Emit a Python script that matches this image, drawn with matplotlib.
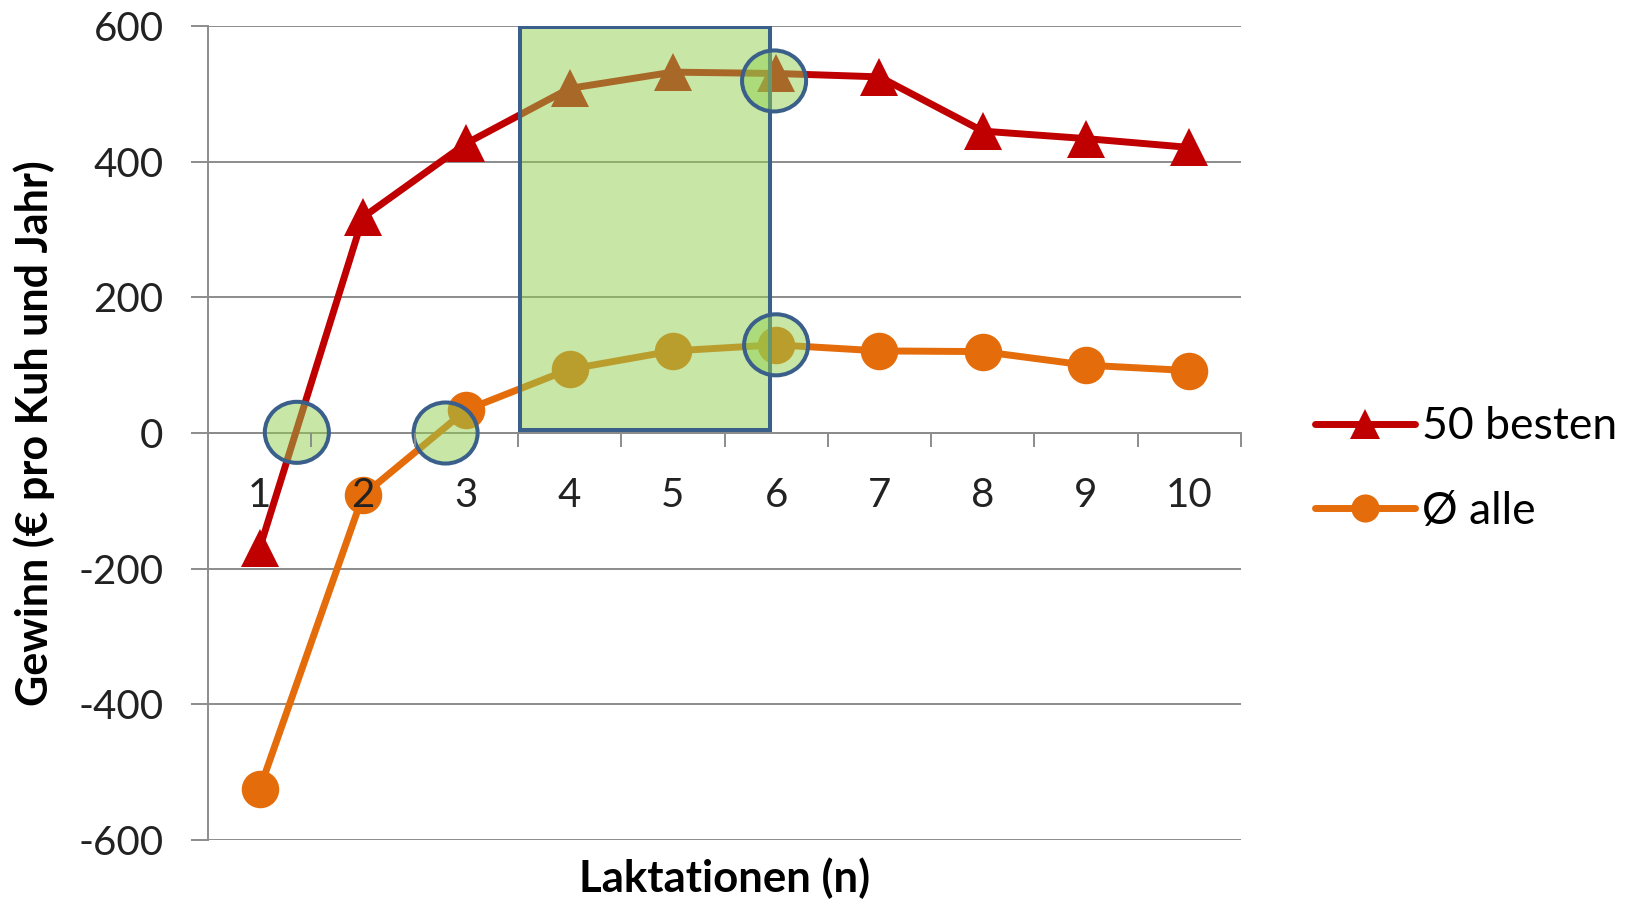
import matplotlib.pyplot as plt
from matplotlib.patches import Rectangle, Ellipse
from matplotlib.colors import to_rgba

# Gewinn je Laktation
laktationen = [1, 2, 3, 4, 5, 6, 7, 8, 9, 10]
besten_50 = [-170, 318, 427, 508, 532, 530, 525, 445, 434, 421]
alle_mittel = [-525, -92, 34, 94, 121, 130, 121, 120, 100, 92]

y_ticks = [-600, -400, -200, 0, 200, 400, 600]

# markierter Bereich und Kreise (x, y)
bereich_x = (3.52, 5.94)
bereich_y = (5, 598)
kreise = [(1.36, 1), (2.80, 0), (5.98, 519), (6.0, 130)]

plt.rcParams['font.family'] = ['Lato', 'DejaVu Sans']
plt.rcParams['axes.unicode_minus'] = False

grid_col = '#8c8c8c'
red = '#C00000'
orange = '#E46C0A'
green = to_rgba('#92D050', 0.5)
blue = '#3A5F8B'

fig = plt.figure(figsize=(16.32, 9.02), dpi=100)
ax = fig.add_axes([208/1632, 1 - 840/902, (1241 - 208)/1632, (840 - 26)/902])

ax.set_xlim(0.5, 10.5)
ax.set_ylim(-600, 600)

ax.plot(laktationen, besten_50, color=red, lw=5, marker='^', ms=28, mew=0,
        label='50 besten', zorder=3, solid_capstyle='round')
ax.plot(laktationen, alle_mittel, color=orange, lw=5, marker='o', ms=27, mew=0,
        label='Ø alle', zorder=3, solid_capstyle='round')

ax.add_patch(Rectangle((bereich_x[0], bereich_y[0]), bereich_x[1] - bereich_x[0],
                       bereich_y[1] - bereich_y[0], facecolor=green,
                       edgecolor=blue, lw=2.9, zorder=4))
for cx, cy in kreise:
    ax.add_patch(Ellipse((cx, cy), 0.62, 90, facecolor=green,
                         edgecolor=blue, lw=2.9, zorder=5))

# Achsen im Excel-Stil
for s in ['top', 'right']:
    ax.spines[s].set_visible(False)
ax.spines['left'].set_color(grid_col)
ax.spines['left'].set_linewidth(1.4)
ax.spines['bottom'].set_position(('data', 0))
ax.spines['bottom'].set_color(grid_col)
ax.spines['bottom'].set_linewidth(1.4)

ax.set_yticks(y_ticks)
ax.yaxis.grid(True, color=grid_col, lw=1.4, zorder=0)
ax.set_axisbelow(True)
ax.tick_params(axis='y', direction='out', length=12, width=1.4, color=grid_col,
               pad=20, labelsize=29, labelcolor='#222222')

ax.set_xticks(laktationen)
ax.set_xticks([k + 0.5 for k in laktationen], minor=True)
ax.tick_params(axis='x', which='major', length=0, pad=32, labelsize=29,
               labelcolor='#222222')
ax.tick_params(axis='x', which='minor', direction='out', length=10, width=1.4,
               color=grid_col)
# Kategorienbeschriftung liegt über den Linien
ax.xaxis.set_zorder(10)

fig.text(34/1632, 1 - 433/902, 'Gewinn (€ pro Kuh und Jahr)', rotation=90,
         ha='center', va='center', fontsize=31, fontweight='bold')
fig.text(725/1632, 1 - 892/902, 'Laktationen (n)', ha='center', va='baseline',
         fontsize=31.5, fontweight='bold')

fig.legend(loc='center left', bbox_to_anchor=(1315/1632, 1 - 469/902),
           frameon=False, fontsize=32, handlelength=2.25, handletextpad=0.15,
           labelspacing=0.97, markerscale=0.75, borderpad=0, borderaxespad=0)

fig.savefig('out.png', dpi=100)
